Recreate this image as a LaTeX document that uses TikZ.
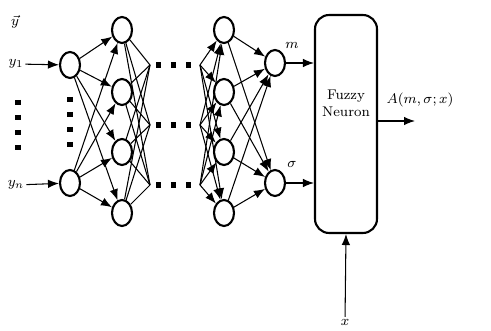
\documentclass[tikz,border=0pt]{standalone}
\usepackage{amsmath,amssymb}
\usetikzlibrary{shapes.geometric,arrows.meta}
\tikzset{
  neuron/.style={draw,ellipse,line width=1.2pt,minimum width=0.4cm,minimum height=0.52cm,inner sep=0pt},
  syn/.style={-{Latex[length=2.2mm,width=1.7mm]},line width=0.6pt},
  wire/.style={-,line width=0.6pt},
  dots/.style={line width=3pt,dash pattern=on 3pt off 5.5pt},
  lbl/.style={font=\footnotesize,inner sep=1pt}
}
\begin{document}
\begin{tikzpicture}[x=0.02cm,y=-0.02cm]
\useasboundingbox (0,0) rectangle (491,331);
%% inputs
\node[lbl] (yvec) at (15,22) {$\vec{y}$};
\node[lbl] (y1) at (16,64) {$y_1$};
\node[lbl] (yn) at (16,185) {$y_n$};
\draw[dots] (18,100)--(18,150);
\node[neuron] (in1) at (70,65) {};
\node[neuron] (inn) at (70,183) {};
\draw[dots] (70,97)--(70,150);
\draw[syn] (y1)--(in1);
\draw[syn] (yn)--(inn);
%% first hidden layer
\foreach \n/\y in {a/30,b/92,c/152,d/213}
  \node[neuron] (ha\n) at (122,\y) {};
\foreach \s in {in1,inn}
  \foreach \n in {a,b,c,d}
    \draw[syn] (\s)--(ha\n);
%% the dots between hidden layers
\foreach \k/\y in {1/65,2/125,3/185}{
  \coordinate (dl\k) at (150,\y);
  \coordinate (dr\k) at (200,\y);
  \draw[dots] (156,\y)--(200,\y);
}
\foreach \n in {a,b,c,d}
  \foreach \k in {1,2,3}
    \draw[wire] (ha\n)--(dl\k);
%% second hidden layer
\foreach \n/\y in {a/30,b/92,c/152,d/213}
  \node[neuron] (hb\n) at (224,\y) {};
\foreach \n in {a,b,c,d}
  \foreach \k in {1,2,3}
    \draw[syn] (dr\k)--(hb\n);
%% outputs m and sigma
\node[neuron] (om) at (275,63) {};
\node[neuron] (os) at (275,183) {};
\foreach \n in {a,b,c,d}{
  \draw[syn] (hb\n)--(om);
  \draw[syn] (hb\n)--(os);
}
\node[lbl] (lm) at (292,45) {$m$};
\node[lbl] (ls) at (292,164) {$\sigma$};
%% fuzzy neuron
\node[draw,rounded corners=8pt,line width=1.2pt,minimum width=1.24cm,minimum height=4.36cm,
  align=center,font=\footnotesize,inner sep=1pt] (fz) at (346,124) {Fuzzy\\Neuron\\[14pt]};
\draw[syn] (om)--(om-|fz.west);
\draw[syn] (os)--(os-|fz.west);
\coordinate (aout) at (415,121);
\draw[syn] (aout-|fz.east)--(aout);
\node[lbl] (la) at (420,100) {$A(m,\sigma;x)$};
\node[lbl] (lx) at (345,322) {$x$};
\draw[syn] (lx)--(fz.south);
\end{tikzpicture}
\end{document}
